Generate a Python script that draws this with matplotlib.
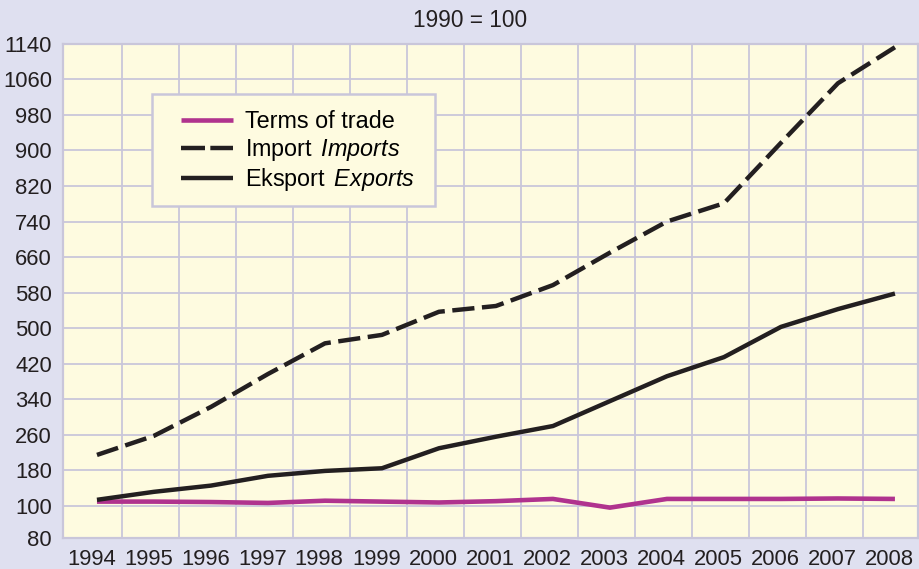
import numpy as np
import matplotlib
matplotlib.use("Agg")
import matplotlib.pyplot as plt
from matplotlib.lines import Line2D
from matplotlib.patches import Rectangle

years = list(range(1994, 2009))
terms_of_trade = [110, 110, 109, 107, 112, 110, 108, 111, 116, 99, 116, 116, 116, 117, 116]
imports = [215, 258, 323, 397, 466, 485, 537, 550, 597, 670, 740, 781, 917, 1051, 1132]
exports = [114, 132, 146, 168, 179, 185, 230, 256, 280, 336, 392, 435, 503, 543, 578]
ytick_values = [80, 100, 180, 260, 340, 420, 500, 580, 660, 740, 820, 900, 980, 1060, 1140]

plt.rcParams['font.family'] = ['Liberation Sans', 'DejaVu Sans']
plt.rcParams['mathtext.fontset'] = 'custom'
plt.rcParams['mathtext.rm'] = 'Liberation Sans'
plt.rcParams['mathtext.it'] = 'Liberation Sans:italic'

BG = '#DFE0F0'
PLOT_BG = '#FEFBE0'
GRID = '#C9C6DA'
MAGENTA = '#B0338E'
BLACK = '#231F20'

# axis break below 100: the 80-100 band is stretched
K = 3.56
def fwd(v):
    v = np.asarray(v, dtype=float)
    return np.where(v >= 100, v, 100 - (100 - v) * K)
def inv(u):
    u = np.asarray(u, dtype=float)
    return np.where(u >= 100, u, 100 - (100 - u) / K)

W, H = 920, 569
fig = plt.figure(figsize=(9.2, 5.69), dpi=100, facecolor=BG)
ax = fig.add_axes([63/W, 1 - 537.7/H, (918.3 - 63)/W, (537.7 - 43.7)/H])
ax.set_facecolor(PLOT_BG)
ax.set_yscale('function', functions=(fwd, inv))
ax.set_ylim(80, 1140)
ax.set_xlim(1993.404, 2008.41)

# grid
for v in ytick_values[1:]:
    ax.axhline(v, color=GRID, lw=1.3, zorder=1)
for y in years[:-1]:
    ax.axvline(y + 0.4386, color=GRID, lw=1.3, zorder=1)

dash = (5, 1.7)
ax.plot(years, terms_of_trade, color=MAGENTA, lw=3.3, solid_capstyle='butt', solid_joinstyle='miter', zorder=3)
ax.plot(years, imports, color=BLACK, lw=3.2, linestyle=(0, dash), dash_capstyle='butt', zorder=3)
ax.plot(years, exports, color=BLACK, lw=3.2, solid_capstyle='butt', zorder=3)

ax.set_yticks(ytick_values)
ax.set_yticklabels([str(v) for v in ytick_values])
ax.set_xticks(np.array(years) - 0.1)
ax.set_xticklabels([str(y) for y in years])
ax.tick_params(axis='both', length=0, labelsize=15.8, colors='#231F20')
ax.tick_params(axis='y', pad=8)
ax.tick_params(axis='x', pad=8)
ax.minorticks_off()

for s in ax.spines.values():
    s.set_color(GRID)
    s.set_linewidth(1.6)

# legend frame
frame = Rectangle((152.3/W, 1 - 205.7/H), (435 - 152.3)/W, (205.7 - 94)/H,
                  transform=fig.transFigure, facecolor=PLOT_BG, edgecolor=GRID,
                  lw=1.8, zorder=4, clip_on=False)
ax.add_patch(frame)

handles = [
    Line2D([], [], color=MAGENTA, lw=3.3, solid_capstyle='butt'),
    Line2D([], [], color=BLACK, lw=3.2, linestyle=(0, (5.4, 1.2)), dash_capstyle='butt'),
    Line2D([], [], color=BLACK, lw=3.2, solid_capstyle='butt'),
]
labels = ["Terms of trade", r"Import $\,\mathit{Imports}$", r"Eksport $\,\mathit{Exports}$"]
leg = ax.legend(handles, labels, loc='upper left',
                bbox_to_anchor=(181/W, 1 - 110.5/H), bbox_transform=fig.transFigure,
                fontsize=16.8, frameon=False, handlelength=2.25, handletextpad=0.5,
                labelspacing=0.14, borderpad=0, borderaxespad=0)
leg.set_zorder(5)

fig.text(470/W, 1 - 20.7/H, "1990 = 100", ha='center', va='center', fontsize=16.3, color='#231F20')

fig.savefig("out.png", dpi=100, facecolor=BG)
